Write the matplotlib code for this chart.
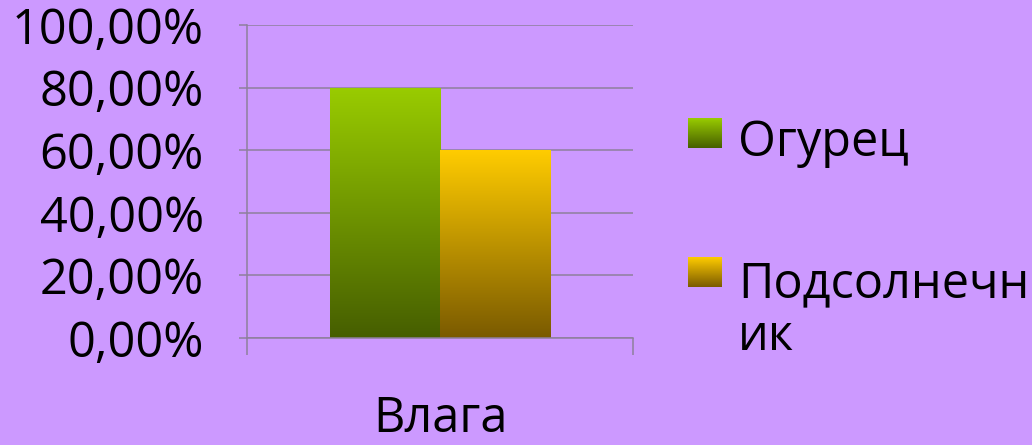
import numpy as np
import matplotlib.pyplot as plt
import matplotlib.transforms as mtransforms
from matplotlib.colors import LinearSegmentedColormap

categories = ['Влага']
series = ['Огурец', 'Подсолнечник']
legend_labels = ['Огурец', 'Подсолнечн\nик']
values = [0.80, 0.60]
tops = ['#99cc00', '#ffcc00']
bottoms = ['#465e00', '#7a5a00']
yticks = [0.0, 0.2, 0.4, 0.6, 0.8, 1.0]

bg = '#cc99ff'
line_col = '#8e7f9c'
plt.rcParams['font.family'] = ['Open Sans', 'DejaVu Sans']
fs = 35

fig = plt.figure(figsize=(10.32, 4.45), dpi=100, facecolor=bg)
ax = fig.add_axes([0.2393, 0.2404, 0.3740, 0.7034])
ax.set_facecolor(bg)

grad = np.linspace(0, 1, 256).reshape(-1, 1)
w = 0.285
for i, (v, t, b) in enumerate(zip(values, tops, bottoms)):
    x = (i - 0.5) * w
    bar = ax.bar(x, v, width=w, color='none', edgecolor='none', zorder=2)[0]
    cmap = LinearSegmentedColormap.from_list('g%d' % i, [b, t])
    im = ax.imshow(grad, cmap=cmap, origin='lower', aspect='auto',
                   extent=[x - w / 2, x + w / 2, 0, v], zorder=2)
    im.set_clip_path(bar)

ax.set_xlim(-0.5, 0.5)
ax.set_ylim(0, 1)
ax.set_yticks(yticks)
ax.set_yticklabels([('%.2f%%' % (y * 100)).replace('.', ',') for y in yticks],
                   fontsize=fs)
shift = mtransforms.ScaledTranslation(0, -5 / 100, fig.dpi_scale_trans)
for lab in ax.get_yticklabels():
    lab.set_transform(lab.get_transform() + shift)
ax.set_xticks([-0.5, 0.5])
ax.set_xticklabels(['', ''])
ax.tick_params(axis='y', length=6, width=1.1, color=line_col, pad=25)
ax.tick_params(axis='x', length=12, width=1.1, color=line_col)
ax.yaxis.grid(True, color=line_col, linewidth=1.1)
ax.set_axisbelow(True)
for s in ['top', 'right']:
    ax.spines[s].set_visible(False)
for s in ['left', 'bottom']:
    ax.spines[s].set_color(line_col)
    ax.spines[s].set_linewidth(1.1)

fig.text(441 / 1032, 1 / 445, categories[0], fontsize=fs, ha='center', va='bottom')

# legend
sq_bottoms = [(445 - 148) / 445, (445 - 287) / 445]
txt_base = [(445 - 156) / 445, (445 - 297) / 445]
for i in range(2):
    lax = fig.add_axes([688 / 1032, sq_bottoms[i], 34 / 1032, 30 / 445])
    cmap = LinearSegmentedColormap.from_list('l%d' % i, [bottoms[i], tops[i]])
    lax.imshow(grad, cmap=cmap, origin='lower', aspect='auto')
    lax.axis('off')
    lines = legend_labels[i].split('\n')
    for j, ln in enumerate(lines):
        fig.text(738 / 1032, txt_base[i] - j * 53 / 445, ln, fontsize=fs,
                 ha='left', va='baseline')

fig.savefig('out.png', dpi=100, facecolor=bg)
